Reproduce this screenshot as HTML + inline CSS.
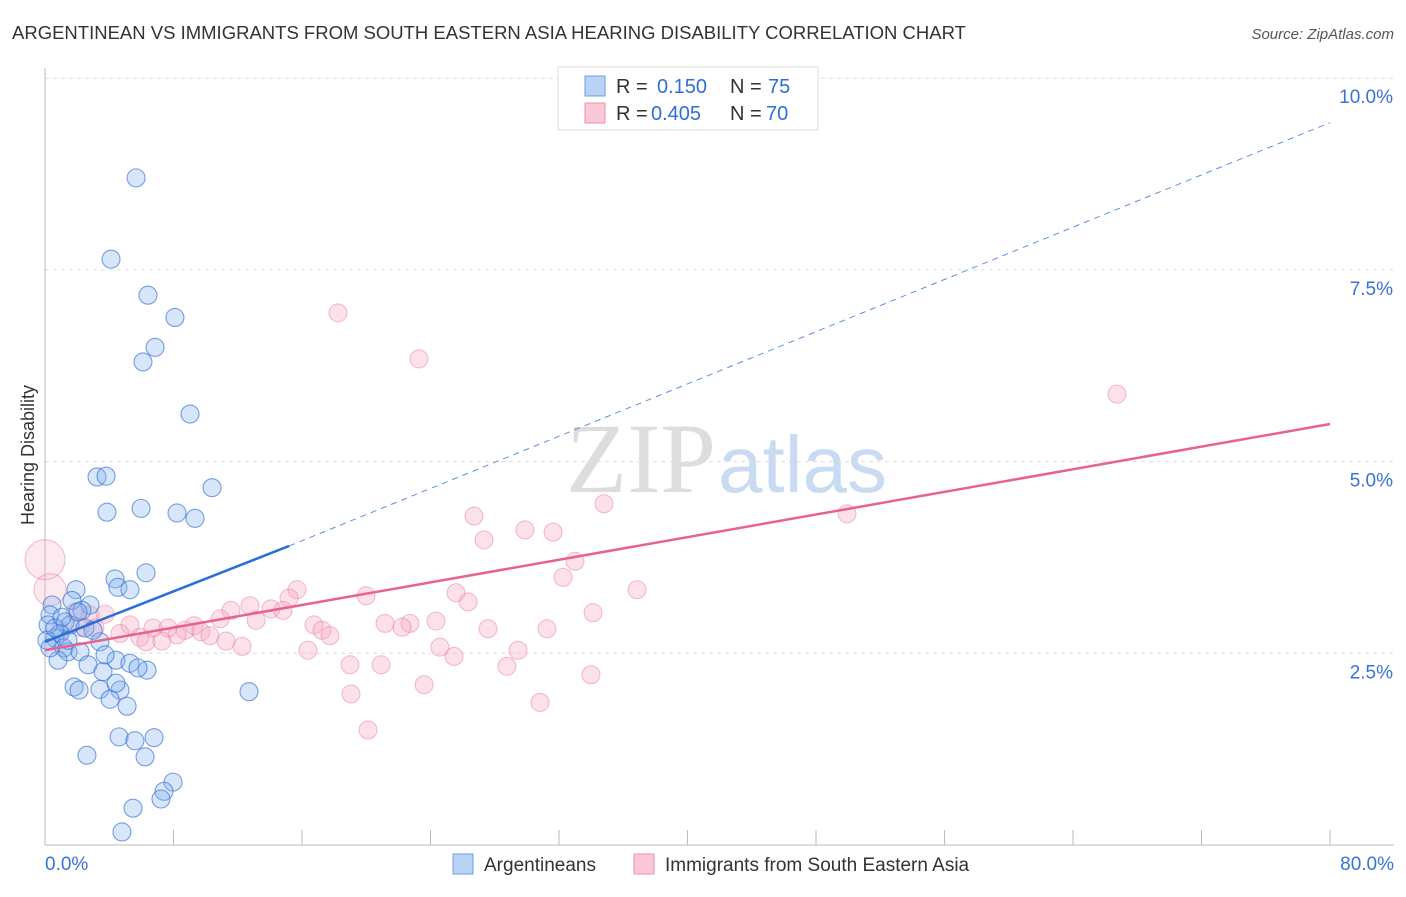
<!DOCTYPE html>
<html><head><meta charset="utf-8"><style>
body{margin:0;background:#fff;font-family:"Liberation Sans",sans-serif;}
</style></head><body>
<svg width="1406" height="892" xmlns="http://www.w3.org/2000/svg" id="svg">
<text x="12" y="39" font-size="18.5" fill="#333">ARGENTINEAN VS IMMIGRANTS FROM SOUTH EASTERN ASIA HEARING DISABILITY CORRELATION CHART</text>
<text x="1394" y="39" font-size="15" fill="#555" text-anchor="end" font-style="italic">Source: ZipAtlas.com</text>
<text x="716" y="492" font-size="100" fill="#ddd" text-anchor="end" font-family="Liberation Serif,serif">ZIP</text>
<text x="718" y="492" font-size="80" fill="#c9dbf2">atlas</text>
<text x="34" y="455" font-size="18" fill="#333" text-anchor="middle" transform="rotate(-90 34 455)">Hearing Disability</text>
<g id="grid"></g><g id="pts"></g><g id="lines"></g>
<g>
<rect x="558" y="67" width="260" height="63" fill="#fff" stroke="#ddd"/>
<rect x="585" y="76" width="20" height="20" fill="#b9d3f5" stroke="#6a9fe0"/>
<rect x="585" y="103" width="20" height="20" fill="#fbc8d8" stroke="#ec8fb0"/>
<text y="93" font-size="20" fill="#333"><tspan x="616">R =</tspan><tspan x="657" fill="#2f6fd6">0.150</tspan><tspan x="730">N =</tspan><tspan x="768" fill="#2f6fd6">75</tspan></text>
<text y="120" font-size="20" fill="#333"><tspan x="616">R =</tspan><tspan x="651" fill="#2f6fd6">0.405</tspan><tspan x="730">N =</tspan><tspan x="766" fill="#2f6fd6">70</tspan></text>
</g>
<g>
<rect x="453" y="854" width="20" height="20" fill="#b9d3f5" stroke="#6a9fe0"/>
<text x="484" y="871" font-size="19" fill="#333">Argentineans</text>
<rect x="634" y="854" width="20" height="20" fill="#fbc8d8" stroke="#ec8fb0"/>
<text x="665" y="871" font-size="19" fill="#333">Immigrants from South Eastern Asia</text>
</g>
</svg>
<script>
const bx=[5.67,4.11,6.41,8.09,6.85,6.10,9.03,3.24,3.80,10.40,3.86,5.98,8.22,9.34,6.29,4.36,4.54,5.29,1.93,1.68,2.80,2.30,0.44,0.31,1.25,1.56,2.49,0.93,0.62,3.42,1.18,1.43,2.18,0.81,2.68,4.42,5.29,6.35,5.79,3.61,1.81,2.12,3.42,4.67,4.42,4.05,5.11,12.70,2.61,4.61,6.79,5.60,6.23,7.97,7.41,7.22,5.48,4.79,0.19,0.12,0.62,1.06,2.05,2.99,0.31,1.43,3.74];
const by=[8.70,7.64,7.17,6.88,6.49,6.30,5.62,4.80,4.81,4.66,4.34,4.39,4.33,4.26,3.55,3.47,3.36,3.33,3.33,3.19,3.13,3.06,3.13,3.00,2.91,2.87,2.83,2.76,2.70,2.65,2.57,2.52,2.52,2.41,2.35,2.41,2.37,2.28,2.31,2.26,2.06,2.02,2.03,2.02,2.11,1.90,1.81,2.00,1.17,1.41,1.40,1.36,1.15,0.82,0.70,0.60,0.48,0.17,2.87,2.67,2.83,2.97,3.04,2.80,2.57,2.67,2.48];
const px=[0.0,0.31,18.24,23.28,66.74,26.71,34.80,29.88,31.63,27.33,49.93,33.00,32.25,36.86,15.69,15.19,19.99,25.59,26.34,34.12,12.76,11.58,14.07,14.82,10.90,13.14,21.17,22.72,24.34,22.23,16.75,17.25,17.74,27.58,31.25,5.29,6.72,7.66,8.72,9.71,10.27,4.67,5.91,6.29,8.22,9.28,7.28,11.27,12.27,16.37,24.59,25.46,29.45,18.99,20.92,28.76,33.99,23.60,19.05,30.82,20.11,43.15,1.87,2.80,3.74,3.11,0.93,2.18];
const py=[3.72,3.33,6.94,6.34,5.88,4.29,4.45,4.11,4.08,3.98,4.32,3.70,3.49,3.33,3.33,3.22,3.25,3.29,3.17,3.03,3.12,3.06,3.08,3.06,2.95,2.93,2.89,2.89,2.92,2.84,2.87,2.80,2.73,2.82,2.82,2.87,2.83,2.83,2.80,2.78,2.73,2.76,2.71,2.65,2.74,2.86,2.66,2.66,2.59,2.54,2.58,2.46,2.54,2.35,2.35,2.33,2.22,2.09,1.97,1.86,1.50,9.52,3.04,3.00,3.01,2.83,2.80,2.84];
const yTicks=[2.5,5.0,7.5,10.0];
const xTicks=[0,8,16,24,32,40,48,56,64,72,80];
const blueFit=[2.65,3.90,9.42];
const pinkFit=[2.54,5.49];
const X=v=>45+v/80*1285, Y=v=>845-v/2.5*191.7;
const NS="http://www.w3.org/2000/svg";
function mk(t,a,p){const e=document.createElementNS(NS,t);for(const k in a)e.setAttribute(k,a[k]);p.appendChild(e);return e;}
const g=document.getElementById('grid');
yTicks.forEach(t=>{const l=mk('line',{x1:45,x2:1394,y1:Y(t),y2:Y(t),stroke:'#ddd','stroke-dasharray':'4,4'},g);


const tx=mk('text',{x:1393,y:Y(t)+25,'font-size':19,fill:'#3a72d8','text-anchor':'end'},g);tx.textContent=t.toFixed(1)+'%';

});
mk('line',{x1:45,x2:45,y1:68,y2:845,stroke:'#bbb'},g);
mk('line',{x1:45,x2:1394,y1:845,y2:845,stroke:'#bbb'},g);
xTicks.forEach(t=>{const l=mk('line',{x1:X(t),x2:X(t),y1:830,y2:845,stroke:'#bbb'},g);

});
[[0,'start',45],[80,'end',1394]].forEach(([t,a,x])=>{const tx=mk('text',{x:x,y:870,'font-size':19,fill:'#3a72d8','text-anchor':a},g);tx.textContent=t.toFixed(1)+'%';

});
const P=document.getElementById('pts');
px.forEach((v,i)=>{const r=i==0?20:(i==1?16:9);const c=mk('circle',{cx:X(v),cy:Y(py[i]),r:r,fill:i<2?'rgba(246,170,195,0.25)':'rgba(246,165,192,0.33)',stroke:'rgba(232,120,158,0.5)','stroke-width':1},P);

});
bx.forEach((v,i)=>{const c=mk('circle',{cx:X(v),cy:Y(by[i]),r:9,fill:'rgba(130,178,238,0.32)',stroke:'rgba(50,110,210,0.65)','stroke-width':1.1},P);

});
const L=document.getElementById('lines');
let l1=mk('line',{x1:X(0),y1:Y(blueFit[0]),x2:X(15.2),y2:Y(blueFit[1]),stroke:'#2a6fd8','stroke-width':2.5},L);


let l2=mk('line',{x1:X(15.2),y1:Y(blueFit[1]),x2:X(80),y2:Y(blueFit[2]),stroke:'#5a90e0','stroke-width':1,'stroke-dasharray':'6,5'},L);


let l3=mk('line',{x1:X(0),y1:Y(pinkFit[0]),x2:X(80),y2:Y(pinkFit[1]),stroke:'#e8628f','stroke-width':2.5},L);


</script>
</body></html>
